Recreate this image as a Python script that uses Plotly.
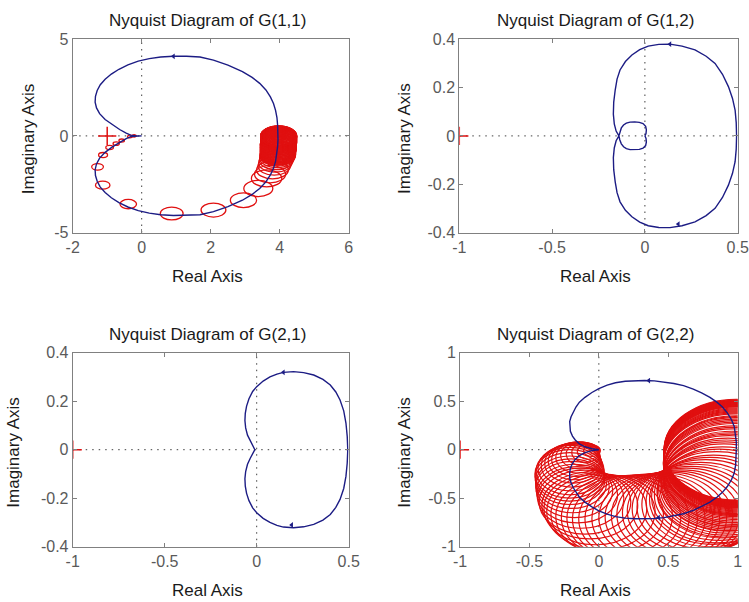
import plotly.graph_objects as go

# ---------------- data ----------------
# G(1,1): upper branch (origin -> DC) and lower branch (DC -> origin)
g11_re_up = [0.0, -0.15, -0.32, -0.45, -0.64, -0.86, -1.06, -1.22, -1.31, -1.35, -1.34, -1.29,
             -1.20, -1.06, -0.88, -0.66, -0.40, -0.10, 0.22, 0.55, 0.92, 1.30, 1.69, 2.08, 2.50,
             2.92, 3.20, 3.42, 3.60, 3.73, 3.82, 3.88, 3.92, 3.94, 3.95, 3.95]
g11_im_up = [0.0, 0.0, 0.04, 0.14, 0.33, 0.58, 0.85, 1.15, 1.45, 1.75, 2.05, 2.35,
             2.65, 2.93, 3.20, 3.45, 3.68, 3.87, 4.00, 4.08, 4.12, 4.12, 4.08, 3.92, 3.66,
             3.33, 3.03, 2.72, 2.38, 2.02, 1.68, 1.32, 0.95, 0.55, 0.20, 0.0]
g11_re_lo = [3.95, 3.95, 3.94, 3.92, 3.88, 3.82, 3.73, 3.60, 3.42, 3.20, 2.92, 2.50, 2.08,
             1.69, 1.30, 0.92, 0.55, 0.22, -0.10, -0.40, -0.66, -0.88, -1.06, -1.20, -1.29,
             -1.34, -1.35, -1.31, -1.22, -1.06, -0.86, -0.64, -0.45, -0.32, -0.15, 0.0]
g11_im_lo = [0.0, -0.20, -0.55, -0.95, -1.32, -1.68, -2.02, -2.38, -2.72, -3.03, -3.33, -3.66,
             -3.92, -4.08, -4.12, -4.12, -4.08, -4.00, -3.87, -3.68, -3.45, -3.20, -2.93, -2.65,
             -2.35, -2.05, -1.75, -1.45, -1.15, -0.85, -0.58, -0.33, -0.14, -0.04, 0.0, 0.0]
g11_arrow_re = [0.92]
g11_arrow_im = [4.12]

# Gershgorin circles on G(1,1): centre re, centre im, radius
g11_cx = ([-0.22, -0.34, -0.58, -0.74, -0.93, -1.12, -1.28, -1.13, -0.39, 0.87, 2.08, 2.95,
           3.38, 3.62, 3.72, 3.79, 3.84, 3.87, 3.90, 3.92]
          + [3.94, 3.94]
          + [3.95, 3.95, 3.95, 3.95, 3.95, 3.95, 3.95, 3.95, 3.95]
          + [3.96, 3.96, 3.96, 3.96, 3.96, 3.96, 3.96, 3.96, 3.96, 3.96, 3.96]
          + [3.97, 3.97, 3.97, 3.97, 3.97, 3.97, 3.97, 3.97, 3.97, 3.97, 3.97, 3.97, 3.97, 3.97,
             3.97, 3.97, 3.97, 3.97, 3.97, 3.97, 3.97])
g11_cy = ([0.00, -0.03, -0.24, -0.40, -0.60, -0.99, -1.60, -2.55, -3.53, -4.02, -3.84, -3.33,
           -2.72, -2.20, -1.98, -1.76, -1.56, -1.40, -1.26, -1.14]
          + [-1.04, -1.00]
          + [-0.97, -0.94, -0.91, -0.88, -0.85, -0.82, -0.79, -0.76, -0.73]
          + [-0.70, -0.67, -0.64, -0.61, -0.58, -0.55, -0.52, -0.49, -0.46, -0.43, -0.40]
          + [-0.37, -0.34, -0.31, -0.28, -0.25, -0.22, -0.20, -0.18, -0.16, -0.14, -0.12, -0.10,
             -0.08, -0.06, -0.05, -0.04, -0.03, -0.02, -0.01, -0.005, 0.0])
g11_r = ([0.06, 0.07, 0.08, 0.09, 0.11, 0.13, 0.17, 0.21, 0.24, 0.33, 0.36, 0.38,
          0.42, 0.44, 0.45, 0.46, 0.47, 0.48, 0.49, 0.50]
         + [0.51, 0.51]
         + [0.51, 0.51, 0.51, 0.51, 0.51, 0.51, 0.51, 0.51, 0.51]
         + [0.52, 0.52, 0.52, 0.52, 0.52, 0.52, 0.52, 0.52, 0.52, 0.52, 0.52]
         + [0.52, 0.52, 0.52, 0.52, 0.52, 0.52, 0.52, 0.52, 0.52, 0.52, 0.52, 0.52, 0.52, 0.52,
            0.52, 0.52, 0.52, 0.52, 0.52, 0.52, 0.52])

# G(1,2): upper branch (origin -> inner loop -> cusp -> outer arc -> DC) and lower branch
g12_re_up = [0.0, 0.006, 0.008, 0.004, -0.01, -0.03, -0.055, -0.08, -0.10, -0.115, -0.127,
             -0.135, -0.14, -0.155, -0.165, -0.17, -0.168, -0.16, -0.15, -0.134, -0.105, -0.07,
             -0.028, 0.018, 0.075, 0.135, 0.20, 0.27, 0.33, 0.378, 0.418, 0.45, 0.472, 0.486,
             0.492, 0.494]
g12_im_up = [0.0, 0.01, 0.025, 0.04, 0.051, 0.056, 0.058, 0.057, 0.053, 0.045, 0.033,
             0.017, 0.0, 0.02, 0.05, 0.09, 0.14, 0.19, 0.235, 0.273, 0.308, 0.335,
             0.357, 0.372, 0.379, 0.38, 0.372, 0.356, 0.33, 0.30, 0.255, 0.204, 0.155, 0.107,
             0.055, 0.0]
g12_re_lo = [0.494, 0.492, 0.486, 0.472, 0.45, 0.418, 0.378, 0.33, 0.27, 0.20, 0.135, 0.075,
             0.018, -0.028, -0.07, -0.105, -0.134, -0.15, -0.16, -0.168, -0.17, -0.165, -0.155,
             -0.14, -0.135, -0.127, -0.115, -0.10, -0.08, -0.055, -0.03, -0.01, 0.004, 0.008,
             0.006, 0.0]
g12_im_lo = [0.0, -0.055, -0.107, -0.155, -0.204, -0.255, -0.30, -0.33, -0.356, -0.372, -0.38,
             -0.379, -0.372, -0.357, -0.335, -0.308, -0.273, -0.235, -0.19, -0.14, -0.09, -0.05,
             -0.02, 0.0, -0.017, -0.033, -0.045, -0.053, -0.057, -0.058, -0.056, -0.051, -0.04,
             -0.025, -0.01, 0.0]
g12_arrow_re = [0.135, 0.18]
g12_arrow_im = [0.38, -0.365]

# G(2,1)
g21_re_up = [-0.01, -0.02, -0.035, -0.05, -0.06, -0.064, -0.062, -0.055, -0.042, -0.022, 0.0,
             0.035, 0.072, 0.11, 0.145, 0.20, 0.255, 0.31, 0.36, 0.40, 0.43, 0.453, 0.473,
             0.485, 0.492, 0.495]
g21_im_up = [0.0, 0.015, 0.035, 0.06, 0.09, 0.12, 0.15, 0.18, 0.21, 0.24, 0.26,
             0.283, 0.30, 0.312, 0.319, 0.322, 0.318, 0.308, 0.29, 0.267, 0.238, 0.205, 0.16,
             0.11, 0.055, 0.0]
g21_re_lo = [0.495, 0.492, 0.485, 0.473, 0.453, 0.43, 0.40, 0.36, 0.31, 0.255, 0.20, 0.145,
             0.11, 0.072, 0.035, 0.0, -0.022, -0.042, -0.055, -0.062, -0.064, -0.06, -0.05,
             -0.035, -0.02, -0.01]
g21_im_lo = [0.0, -0.055, -0.11, -0.16, -0.205, -0.238, -0.267, -0.29, -0.308, -0.318, -0.322,
             -0.319, -0.312, -0.30, -0.283, -0.26, -0.24, -0.21, -0.18, -0.15, -0.12, -0.09,
             -0.06, -0.035, -0.015, 0.0]
g21_arrow_re = [0.145, 0.19]
g21_arrow_im = [0.319, -0.31]

# G(2,2)
g22_re_up = [0.0, -0.05, -0.10, -0.14, -0.17, -0.19, -0.205, -0.21, -0.21, -0.20, -0.185,
             -0.165, -0.14, -0.10, -0.05, 0.0, 0.06, 0.12, 0.19, 0.26, 0.33, 0.40, 0.47, 0.54,
             0.61, 0.68, 0.74, 0.80, 0.85, 0.89, 0.925, 0.955, 0.975, 0.985, 0.99, 0.99]
g22_im_up = [0.0, 0.01, 0.03, 0.06, 0.10, 0.14, 0.19, 0.24, 0.29, 0.34, 0.39,
             0.44, 0.49, 0.54, 0.59, 0.63, 0.665, 0.69, 0.705, 0.712, 0.714, 0.71, 0.70, 0.683,
             0.66, 0.625, 0.585, 0.54, 0.49, 0.44, 0.38, 0.31, 0.24, 0.16, 0.08, 0.0]
g22_re_lo = [0.99, 0.99, 0.985, 0.975, 0.955, 0.925, 0.89, 0.85, 0.80, 0.74, 0.68, 0.61, 0.54,
             0.47, 0.40, 0.33, 0.26, 0.19, 0.12, 0.06, 0.0, -0.05, -0.10, -0.14, -0.165, -0.185,
             -0.20, -0.21, -0.21, -0.205, -0.19, -0.17, -0.14, -0.10, -0.05, 0.0]
g22_im_lo = [0.0, -0.08, -0.16, -0.24, -0.31, -0.38, -0.44, -0.49, -0.54, -0.585, -0.625,
             -0.66, -0.683, -0.70, -0.71, -0.714, -0.712, -0.705, -0.69, -0.665, -0.63, -0.59,
             -0.54, -0.49, -0.44, -0.39, -0.34, -0.29, -0.24, -0.19, -0.14, -0.10, -0.06, -0.03,
             -0.01, 0.0]
g22_arrow_re = [0.36, 0.43]
g22_arrow_im = [0.713, -0.70]

# Gershgorin circles on G(2,2)
g22_cx = ([0.99] * 17
          + [0.99, 0.99, 0.99, 0.99, 0.985, 0.985, 0.985]
          + [0.985, 0.983, 0.982, 0.98, 0.978, 0.976, 0.975]
          + [0.97, 0.966, 0.962, 0.957, 0.952, 0.945, 0.938, 0.93]
          + [0.92, 0.91, 0.90, 0.89, 0.87, 0.85, 0.825, 0.80]
          + [0.77, 0.735, 0.70, 0.665, 0.63, 0.59, 0.55, 0.505, 0.46, 0.41, 0.36, 0.31, 0.26,
             0.21]
          + [0.16, 0.11, 0.06, 0.015, -0.025, -0.065, -0.10, -0.13, -0.155, -0.175, -0.19, -0.20,
             -0.207, -0.21]
          + [-0.21, -0.207, -0.203, -0.195, -0.185, -0.175, -0.165, -0.15, -0.135, -0.115,
             -0.095, -0.075, -0.05, -0.03])
g22_cy = ([0.0, -0.005, -0.01, -0.015, -0.02, -0.025, -0.03, -0.035, -0.04, -0.045, -0.05,
           -0.055, -0.06, -0.065, -0.07, -0.075, -0.08]
          + [-0.09, -0.10, -0.11, -0.12, -0.13, -0.14, -0.15]
          + [-0.16, -0.17, -0.18, -0.195, -0.21, -0.225, -0.24]
          + [-0.255, -0.27, -0.285, -0.30, -0.315, -0.33, -0.345, -0.36]
          + [-0.38, -0.40, -0.42, -0.44, -0.465, -0.49, -0.515, -0.54]
          + [-0.563, -0.59, -0.61, -0.632, -0.65, -0.667, -0.68, -0.692, -0.70, -0.708, -0.712,
             -0.713, -0.712, -0.707]
          + [-0.699, -0.686, -0.665, -0.64, -0.61, -0.575, -0.54, -0.50, -0.465, -0.425, -0.385,
             -0.35, -0.315, -0.28]
          + [-0.25, -0.22, -0.19, -0.165, -0.14, -0.12, -0.10, -0.08, -0.06, -0.045, -0.03,
             -0.02, -0.01, -0.005])
g22_r = ([0.52] * 17
         + [0.52] * 7
         + [0.51] * 7
         + [0.50, 0.50, 0.50, 0.49, 0.49, 0.49, 0.49, 0.48]
         + [0.48, 0.48, 0.48, 0.47, 0.47, 0.47, 0.46, 0.46]
         + [0.46, 0.46, 0.46, 0.46, 0.46, 0.46, 0.46, 0.46, 0.46, 0.46, 0.46, 0.455, 0.45, 0.44]
         + [0.43, 0.42, 0.405, 0.39, 0.37, 0.345, 0.33, 0.31, 0.29, 0.275, 0.265, 0.255, 0.25,
            0.25]
         + [0.25, 0.245, 0.235, 0.22, 0.205, 0.19, 0.175, 0.16, 0.14, 0.12, 0.10, 0.08, 0.06,
            0.04])

assert len(g11_cx) == len(g11_cy) == len(g11_r)
assert len(g22_cx) == len(g22_cy) == len(g22_r)

crit_re = [-1.0]
crit_im = [0.0]

titles = ["Nyquist Diagram of G(1,1)", "Nyquist Diagram of G(1,2)",
          "Nyquist Diagram of G(2,1)", "Nyquist Diagram of G(2,2)"]
xlabel = "Real Axis"
ylabel = "Imaginary Axis"

g11_xticks = [-2, 0, 2, 4, 6]
g11_xtext = ["-2", "0", "2", "4", "6"]
g11_yticks = [-5, 0, 5]
g11_ytext = ["-5", "0", "5"]
gs_xticks = [-1, -0.5, 0, 0.5]
gs_xtext = ["-1", "-0.5", "0", "0.5"]
gs_yticks = [-0.4, -0.2, 0, 0.2, 0.4]
gs_ytext = ["-0.4", "-0.2", "0", "0.2", "0.4"]
g22_xticks = [-1, -0.5, 0, 0.5, 1]
g22_xtext = ["-1", "-0.5", "0", "0.5", "1"]
g22_yticks = [-1, -0.5, 0, 0.5, 1]
g22_ytext = ["-1", "-0.5", "0", "0.5", "1"]

# ---------------- styling / layout ----------------
W, H = 749, 602
BLUE = "#1c1c84"
RED = "#e01010"
FRAME = "#808080"
FONT = "Liberation Sans, Arial, sans-serif"

# pixel boxes of the four axes (left, right, top, bottom)
boxes = [(72.7, 348.7, 39.3, 232.5), (459.3, 737.7, 39.3, 232.5),
         (72.7, 348.7, 352.7, 546.7), (460.0, 737.7, 352.7, 546.7)]

fig = go.Figure()

panels = [
    dict(re=g11_re_up + g11_re_lo, im=g11_im_up + g11_im_lo, are=g11_arrow_re,
         aim=g11_arrow_im, xr=[-2, 6], yr=[-5, 5],
         xt=g11_xticks, xtt=g11_xtext, yt=g11_yticks, ytt=g11_ytext),
    dict(re=g12_re_up + g12_re_lo, im=g12_im_up + g12_im_lo, are=g12_arrow_re,
         aim=g12_arrow_im, xr=[-1, 0.5], yr=[-0.4, 0.4],
         xt=gs_xticks, xtt=gs_xtext, yt=gs_yticks, ytt=gs_ytext),
    dict(re=g21_re_up + g21_re_lo, im=g21_im_up + g21_im_lo, are=g21_arrow_re,
         aim=g21_arrow_im, xr=[-1, 0.5], yr=[-0.4, 0.4],
         xt=gs_xticks, xtt=gs_xtext, yt=gs_yticks, ytt=gs_ytext),
    dict(re=g22_re_up + g22_re_lo, im=g22_im_up + g22_im_lo, are=g22_arrow_re,
         aim=g22_arrow_im, xr=[-1, 1], yr=[-1, 1],
         xt=g22_xticks, xtt=g22_xtext, yt=g22_yticks, ytt=g22_ytext),
]

shapes = []
annotations = []
layout_axes = {}
for i, p in enumerate(panels):
    n = i + 1
    xa = "x" if n == 1 else f"x{n}"
    ya = "y" if n == 1 else f"y{n}"
    l, r, t, b = boxes[i]
    common = dict(showgrid=False, zeroline=False, showline=True, linecolor=FRAME, linewidth=1,
                  mirror="ticks", ticks="inside", ticklen=4, tickcolor=FRAME, automargin=False,
                  tickfont=dict(family=FONT, size=16, color="#5a5a5a"))
    layout_axes["xaxis" if n == 1 else f"xaxis{n}"] = dict(
        domain=[l / W, r / W], range=p["xr"], anchor=ya, tickvals=p["xt"], ticktext=p["xtt"],
        **common)
    layout_axes["yaxis" if n == 1 else f"yaxis{n}"] = dict(
        domain=[1 - b / H, 1 - t / H], range=p["yr"], anchor=xa, tickvals=p["yt"],
        ticktext=p["ytt"], **common)

    # dotted zero axes
    shapes.append(dict(type="line", xref=f"{xa} domain", yref=ya, x0=0, x1=1, y0=0, y1=0,
                       line=dict(color="#404040", width=1, dash="1.5px,5px"), layer="below"))
    shapes.append(dict(type="line", xref=xa, yref=f"{ya} domain", x0=0, x1=0, y0=0, y1=1,
                       line=dict(color="#404040", width=1, dash="1.5px,5px"), layer="below"))

    fig.add_trace(go.Scatter(x=p["re"], y=p["im"], mode="lines", xaxis=xa, yaxis=ya,
                             line=dict(color=BLUE, width=1.4), showlegend=False, hoverinfo="skip"))
    fig.add_trace(go.Scatter(x=p["are"], y=p["aim"], mode="markers", xaxis=xa, yaxis=ya,
                             marker=dict(symbol="triangle-left", size=5, color=BLUE),
                             showlegend=False, hoverinfo="skip"))
    fig.add_trace(go.Scatter(x=crit_re, y=crit_im, mode="markers", xaxis=xa, yaxis=ya,
                             cliponaxis=True,
                             marker=dict(symbol="cross-thin", size=13,
                                         line=dict(color=RED, width=1.5)),
                             showlegend=False, hoverinfo="skip"))

    cx_title = (l + r) / 2 - 3
    annotations.append(dict(text=titles[i], x=cx_title / W, y=1 - (t - 18.5) / H,
                            xref="paper", yref="paper", showarrow=False, xanchor="center",
                            yanchor="middle", font=dict(family=FONT, size=17, color="#1a1a1a")))
    annotations.append(dict(text=xlabel, x=cx_title / W, y=1 - (b + 44) / H, xref="paper",
                            yref="paper", showarrow=False, xanchor="center", yanchor="middle",
                            font=dict(family=FONT, size=17, color="#1a1a1a")))

# y labels (x positions differ because of tick label widths)
ylab_x = [29.3, 405.0, 14.0, 405.0]
for i in range(4):
    l, r, t, b = boxes[i]
    annotations.append(dict(text=ylabel, x=ylab_x[i] / W, y=1 - ((t + b) / 2 + 3) / H,
                            xref="paper", yref="paper", showarrow=False, textangle=-90,
                            xanchor="center", yanchor="middle",
                            font=dict(family=FONT, size=17, color="#1a1a1a")))

# Gershgorin circles
for cx, cy, rr in zip(g11_cx, g11_cy, g11_r):
    shapes.append(dict(type="circle", xref="x", yref="y", x0=cx - rr, x1=cx + rr,
                       y0=cy - rr, y1=cy + rr, line=dict(color=RED, width=1.3), layer="below"))
for cx, cy, rr in zip(g22_cx, g22_cy, g22_r):
    shapes.append(dict(type="circle", xref="x4", yref="y4", x0=cx - rr, x1=cx + rr,
                       y0=cy - rr, y1=cy + rr, line=dict(color=RED, width=1.2), layer="below"))

fig.update_layout(width=W, height=H, margin=dict(l=0, r=0, t=0, b=0),
                  paper_bgcolor="white", plot_bgcolor="white", shapes=shapes,
                  annotations=annotations, showlegend=False, **layout_axes)

fig.write_html("out.html", config={"displayModeBar": False, "staticPlot": True},
               post_script="document.body.style.margin='0';document.body.style.overflow='hidden';")
